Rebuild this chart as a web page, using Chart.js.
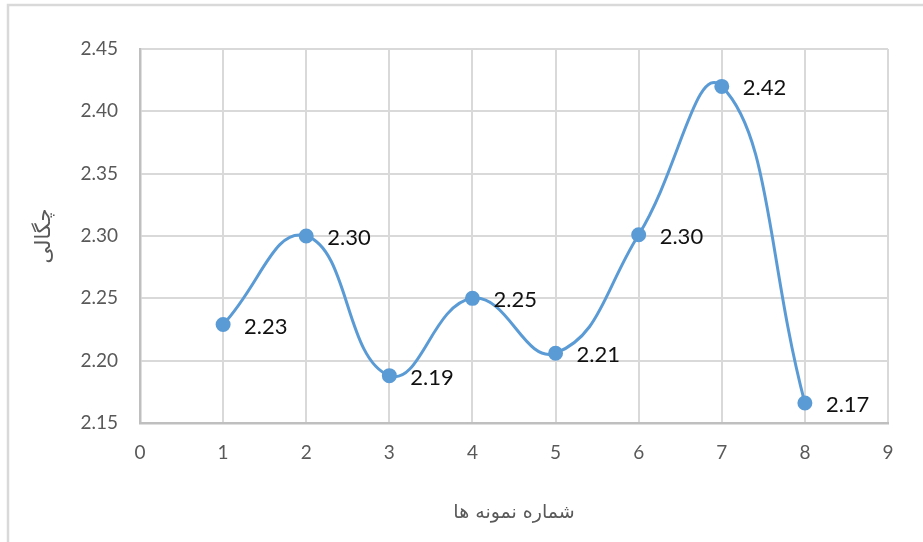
<!DOCTYPE html>
<html>
<head>
<meta charset="utf-8">
<script src="https://cdn.jsdelivr.net/npm/chart.js@4"></script>
<style>
  html, body { margin: 0; padding: 0; background: #ffffff; }
  #wrap { width: 923px; height: 542px; }
</style>
</head>
<body>
<div id="wrap"><canvas id="c" width="923" height="542"></canvas></div>
<script>
// sample numbers along x, density along y
const sampleNumbers = [1, 2, 3, 4, 5, 6, 7, 8];
const densityValues = [2.229, 2.300, 2.188, 2.250, 2.206, 2.301, 2.420, 2.166];
const xTickValues = [0, 1, 2, 3, 4, 5, 6, 7, 8, 9];
const yTickValues = [2.15, 2.20, 2.25, 2.30, 2.35, 2.40, 2.45];
const xTitle = 'شماره نمونه ها';
const yTitle = 'چگالی';

const lineBlue = '#5B9BD5';
const gridGrey = '#d9d9d9';
const axisGrey = '#bfbfbf';
const tickGrey = '#595959';

// light frame along the top and left edges of the chart box
const framePlugin = {
  id: 'frame',
  beforeDraw(chart) {
    const ctx = chart.ctx;
    ctx.save();
    ctx.strokeStyle = '#d9d9d9';
    ctx.lineWidth = 2.5;
    ctx.beginPath();
    ctx.moveTo(8, chart.height);
    ctx.lineTo(8, 5);
    ctx.lineTo(chart.width, 5);
    ctx.stroke();
    ctx.restore();
  }
};

// value labels to the right of each point
const valueLabels = {
  id: 'valueLabels',
  afterDatasetsDraw(chart) {
    const ctx = chart.ctx;
    const meta = chart.getDatasetMeta(0);
    const data = chart.data.datasets[0].data;
    ctx.save();
    ctx.font = '22px Lato';
    ctx.fillStyle = '#111111';
    ctx.textAlign = 'left';
    ctx.textBaseline = 'middle';
    meta.data.forEach((pt, i) => {
      ctx.fillText(data[i].y.toFixed(2), pt.x + 21, pt.y + 2);
    });
    ctx.restore();
  }
};

new Chart(document.getElementById('c'), {
  type: 'scatter',
  data: {
    datasets: [{
      data: sampleNumbers.map((x, i) => ({ x: x, y: densityValues[i] })),
      showLine: true,
      tension: 0.45,
      borderColor: lineBlue,
      backgroundColor: lineBlue,
      borderWidth: 3,
      pointRadius: 6,
      pointHoverRadius: 6,
      pointBackgroundColor: lineBlue,
      pointBorderColor: lineBlue,
      clip: false
    }]
  },
  options: {
    responsive: false,
    animation: false,
    events: [],
    layout: { padding: { top: 49, right: 35, bottom: 0, left: 8 } },
    plugins: {
      legend: { display: false },
      tooltip: { enabled: false }
    },
    scales: {
      x: {
        type: 'linear',
        min: 0,
        max: 9,
        afterBuildTicks: s => { s.ticks = xTickValues.map(v => ({ value: v })); },
        afterFit: s => { s.height = 119; },
        grid: { color: gridGrey, lineWidth: 2, drawTicks: false },
        border: { color: axisGrey, width: 2.5 },
        ticks: {
          padding: 18,
          color: tickGrey,
          font: { family: 'Lato', size: 19 },
          callback: v => String(v)
        },
        title: {
          display: true,
          text: xTitle,
          color: tickGrey,
          font: { family: 'DejaVu Sans', size: 19 },
          padding: { top: 0, bottom: 18 }
        }
      },
      y: {
        type: 'linear',
        min: 2.15,
        max: 2.45,
        afterBuildTicks: s => { s.ticks = yTickValues.map(v => ({ value: v })); },
        afterFit: s => { s.width = 132; },
        grid: { color: gridGrey, lineWidth: 2, drawTicks: false },
        border: { color: axisGrey, width: 2.5 },
        ticks: {
          padding: 22,
          color: tickGrey,
          font: { family: 'Lato', size: 19 },
          callback: v => v.toFixed(2)
        },
        title: {
          display: true,
          text: yTitle,
          color: tickGrey,
          font: { family: 'DejaVu Sans', size: 21 },
          padding: { top: 24, bottom: 0 }
        }
      }
    }
  },
  plugins: [framePlugin, valueLabels]
});
</script>
</body>
</html>
